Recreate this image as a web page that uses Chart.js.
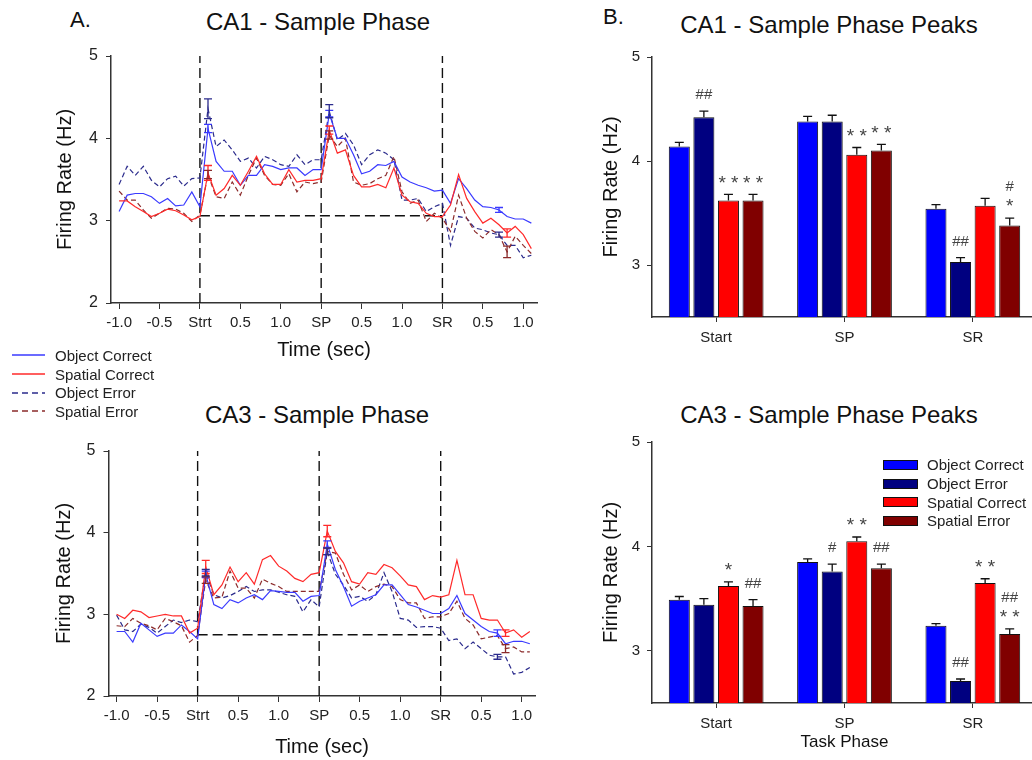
<!DOCTYPE html>
<html>
<head>
<meta charset="utf-8">
<script src="https://cdn.jsdelivr.net/npm/chart.js@4"></script>
<style>
  html, body { margin:0; padding:0; background:#fff; overflow:hidden; width:1032px; height:760px; }
  body { position:relative; font-family:"Liberation Sans", Arial, sans-serif; color:#111; }
  canvas { position:absolute; }
  .title { position:absolute; font-size:24px; white-space:nowrap; transform:translate(-50%,-50%); line-height:1; }
  .letter { position:absolute; font-size:22px; line-height:1; }
  .lg { position:absolute; font-size:15px; color:#222; }
  .lg div { height:18.7px; display:flex; align-items:center; white-space:nowrap; }
  .lg svg { margin-right:10px; }
  .sw { display:inline-block; width:33px; height:8px; border:1px solid #111; margin-right:9px; }
</style>
</head>
<body>
<div class="letter" style="left:70px;top:9px">A.</div>
<div class="letter" style="left:603px;top:6px">B.</div>
<div class="title" style="left:318px;top:22px">CA1 - Sample Phase</div>
<div class="title" style="left:317px;top:415px">CA3 - Sample Phase</div>
<div class="title" style="left:829px;top:25px">CA1 - Sample Phase Peaks</div>
<div class="title" style="left:829px;top:415px">CA3 - Sample Phase Peaks</div>

<canvas id="a1" width="545" height="370" style="left:0;top:0"></canvas>
<canvas id="a3" width="545" height="380" style="left:0;top:380px"></canvas>
<canvas id="b1" width="480" height="370" style="left:560px;top:0"></canvas>
<canvas id="b3" width="480" height="380" style="left:560px;top:380px"></canvas>

<div class="lg" style="left:12px;top:346px">
  <div><svg width="33" height="4"><line x1="0" y1="2" x2="33" y2="2" stroke="#3a3aff" stroke-width="1.5"/></svg>Object Correct</div>
  <div><svg width="33" height="4"><line x1="0" y1="2" x2="33" y2="2" stroke="#ff2a2a" stroke-width="1.5"/></svg>Spatial Correct</div>
  <div><svg width="33" height="4"><line x1="0" y1="2" x2="33" y2="2" stroke="#2b2b8c" stroke-width="1.5" stroke-dasharray="6,4"/></svg>Object Error</div>
  <div><svg width="33" height="4"><line x1="0" y1="2" x2="33" y2="2" stroke="#8b2a2a" stroke-width="1.5" stroke-dasharray="6,4"/></svg>Spatial Error</div>
</div>

<div class="lg" style="left:883px;top:455.5px">
  <div><span class="sw" style="background:#0000ff"></span>Object Correct</div>
  <div><span class="sw" style="background:#000080"></span>Object Error</div>
  <div><span class="sw" style="background:#ff0000"></span>Spatial Correct</div>
  <div><span class="sw" style="background:#800000"></span>Spatial Error</div>
</div>

<script>
// time bins (sec), Strt = 0, SP = 1.5, SR = 3.0
const times = [-1.0, -0.9, -0.8, -0.7, -0.6, -0.5, -0.4, -0.3, -0.2, -0.1,
  0.0, 0.1, 0.2, 0.3, 0.4, 0.5, 0.6, 0.7, 0.8, 0.9, 1.0, 1.1, 1.2, 1.3, 1.4,
  1.5, 1.6, 1.7, 1.8, 1.9, 2.0, 2.1, 2.2, 2.3, 2.4, 2.5, 2.6, 2.7, 2.8, 2.9,
  3.0, 3.1, 3.2, 3.3, 3.4, 3.5, 3.6, 3.7, 3.8, 3.9, 4.0, 4.1];
const xTickVals = [-1, -0.5, 0, 0.5, 1, 1.5, 2, 2.5, 3, 3.5, 4];
const xTickLabels = ['-1.0', '-0.5', 'Strt', '0.5', '1.0', 'SP', '0.5', '1.0', 'SR', '0.5', '1.0'];
const eventTimes = [0, 1.5, 3];

// CA1 time courses
const ca1ObjCorrect = [3.11, 3.31, 3.33, 3.33, 3.29, 3.21, 3.27, 3.18, 3.19, 3.35,
  3.17, 4.12, 3.72, 3.60, 3.60, 3.43, 3.55, 3.55, 3.68, 3.66, 3.62, 3.64, 3.64, 3.55, 3.62,
  3.62, 4.30, 4.00, 4.00, 3.80, 3.57, 3.60, 3.68, 3.67, 3.72, 3.53, 3.47, 3.43, 3.40, 3.36,
  3.37, 3.21, 3.51, 3.39, 3.25, 3.17, 3.16, 3.13, 3.05, 3.02, 3.02, 2.97];
const ca1SpatCorrect = [3.24, 3.24, 3.17, 3.11, 3.05, 3.09, 3.14, 3.12, 3.07, 3.01,
  3.05, 3.58, 3.31, 3.39, 3.55, 3.43, 3.60, 3.78, 3.57, 3.44, 3.44, 3.62, 3.47, 3.49, 3.49,
  3.51, 4.10, 3.82, 3.86, 3.55, 3.41, 3.41, 3.44, 3.40, 3.64, 3.31, 3.23, 3.21, 3.09, 3.05,
  3.05, 3.19, 3.56, 3.27, 3.11, 2.97, 3.03, 2.95, 2.85, 2.93, 2.83, 2.66];
const ca1ObjError = [3.44, 3.66, 3.55, 3.66, 3.49, 3.41, 3.51, 3.54, 3.42, 3.51,
  3.52, 4.36, 3.90, 3.98, 3.86, 3.72, 3.76, 3.64, 3.78, 3.74, 3.68, 3.66, 3.80, 3.68, 3.74,
  3.74, 4.33, 3.98, 4.06, 3.92, 3.68, 3.80, 3.86, 3.82, 3.74, 3.25, 3.25, 3.27, 3.11, 3.17,
  3.21, 2.70, 3.05, 3.03, 2.91, 2.89, 2.85, 2.83, 2.70, 2.70, 2.55, 2.58];
const ca1SpatError = [3.36, 3.25, 3.25, 3.13, 3.03, 3.09, 3.15, 3.14, 3.09, 2.99,
  3.07, 3.56, 3.29, 3.27, 3.47, 3.31, 3.55, 3.76, 3.55, 3.44, 3.43, 3.57, 3.35, 3.47, 3.45,
  3.47, 4.04, 3.90, 4.00, 3.47, 3.43, 3.45, 3.51, 3.55, 3.78, 3.35, 3.21, 3.25, 2.99, 3.09,
  3.03, 2.87, 3.31, 3.03, 2.87, 2.79, 2.89, 2.83, 2.62, 2.81, 2.70, 2.60];
const ca1Baseline = 3.06;

// CA3 time courses
const ca3ObjCorrect = [2.79, 2.79, 2.66, 2.89, 2.81, 2.73, 2.77, 2.77, 2.87, 2.79,
  2.70, 3.49, 3.12, 3.07, 3.18, 3.14, 3.20, 3.24, 3.18, 3.29, 3.28, 3.27, 3.27, 3.16, 3.22,
  3.23, 3.86, 3.55, 3.34, 3.10, 3.16, 3.20, 3.24, 3.36, 3.36, 3.24, 3.12, 3.09, 3.05, 3.01,
  3.01, 3.07, 3.23, 3.01, 2.93, 2.85, 2.79, 2.77, 2.64, 2.67, 2.67, 2.64];
const ca3SpatCorrect = [3.00, 2.95, 3.05, 3.03, 2.96, 2.98, 3.00, 2.98, 2.98, 2.77,
  2.83, 3.58, 3.24, 3.36, 3.58, 3.40, 3.51, 3.37, 3.67, 3.72, 3.59, 3.53, 3.44, 3.40, 3.49,
  3.51, 4.02, 3.77, 3.63, 3.40, 3.37, 3.51, 3.49, 3.61, 3.57, 3.47, 3.36, 3.34, 3.18, 3.23,
  3.21, 3.24, 3.66, 3.24, 3.24, 2.95, 2.93, 2.93, 2.77, 2.81, 2.72, 2.79];
const ca3ObjError = [2.99, 2.81, 2.79, 2.88, 2.84, 2.77, 2.85, 2.93, 2.90, 2.93,
  2.91, 3.51, 3.24, 3.20, 3.23, 3.28, 3.34, 3.28, 3.30, 3.30, 3.27, 3.24, 3.22, 3.03, 3.18,
  3.09, 3.77, 3.49, 3.36, 3.20, 3.22, 3.16, 3.24, 3.51, 3.28, 2.95, 2.93, 2.84, 2.85, 2.85,
  2.83, 2.68, 2.70, 2.58, 2.66, 2.58, 2.50, 2.48, 2.48, 2.27, 2.29, 2.35];
const ca3SpatError = [2.86, 2.85, 2.95, 2.89, 2.86, 2.81, 2.95, 2.91, 2.86, 2.66,
  2.74, 3.42, 3.20, 3.21, 3.53, 3.32, 3.32, 3.20, 3.43, 3.38, 3.34, 3.28, 3.28, 3.28, 3.28,
  3.28, 3.77, 3.75, 3.49, 3.30, 3.36, 3.28, 3.34, 3.37, 3.34, 3.18, 3.14, 3.14, 2.95, 2.97,
  2.97, 3.01, 3.16, 2.95, 2.87, 2.70, 2.72, 2.74, 2.58, 2.60, 2.54, 2.54];
const ca3Baseline = 2.75;

// SEM at selected bins: [time, sem]
const ca1ObjCorrectSem = [[0.1, 0.05], [1.6, 0.04], [3.7, 0.03]];
const ca1SpatCorrectSem = [[0.1, 0.09], [1.6, 0.05], [3.8, 0.05]];
const ca1ObjErrorSem = [[0.1, 0.12], [1.6, 0.08], [3.7, 0.03]];
const ca1SpatErrorSem = [[0.1, 0.05], [1.6, 0.05], [3.8, 0.07]];
const ca3ObjCorrectSem = [[0.1, 0.04], [1.6, 0.04], [3.7, 0.04]];
const ca3SpatCorrectSem = [[0.1, 0.08], [1.6, 0.07], [3.8, 0.04]];
const ca3ObjErrorSem = [[0.1, 0.04], [1.6, 0.04], [3.7, 0.03]];
const ca3SpatErrorSem = [[0.1, 0.04], [1.6, 0.04], [3.8, 0.05]];

// peak bars
const phases = ['Start', 'SP', 'SR'];
const ca1BarObjCorrect = [4.14, 4.38, 3.54];
const ca1BarObjError = [4.42, 4.38, 3.03];
const ca1BarSpatCorrect = [3.62, 4.06, 3.57];
const ca1BarSpatError = [3.62, 4.10, 3.38];
const ca1BarObjCorrectSem = [0.04, 0.05, 0.04];
const ca1BarObjErrorSem = [0.06, 0.06, 0.04];
const ca1BarSpatCorrectSem = [0.06, 0.07, 0.07];
const ca1BarSpatErrorSem = [0.06, 0.06, 0.07];
const ca1Marks = [['', '', ''], ['##', '', '##'], ['* *', '* *', ''], ['* *', '* *', '#\n*']];

const ca3BarObjCorrect = [3.49, 3.85, 3.24];
const ca3BarObjError = [3.44, 3.76, 2.71];
const ca3BarSpatCorrect = [3.62, 4.05, 3.65];
const ca3BarSpatError = [3.43, 3.79, 3.16];
const ca3BarObjCorrectSem = [0.03, 0.03, 0.02];
const ca3BarObjErrorSem = [0.06, 0.07, 0.02];
const ca3BarSpatCorrectSem = [0.04, 0.04, 0.04];
const ca3BarSpatErrorSem = [0.06, 0.04, 0.05];
const ca3Marks = [['', '', ''], ['', '#', '##'], ['*', '* *', '* *'], ['##', '##', '##\n* *']];

Chart.defaults.font.family = '"Liberation Sans", Arial, sans-serif';
Chart.defaults.color = '#222';
Chart.defaults.animation = false;
Chart.defaults.plugins.legend.display = false;
Chart.defaults.plugins.tooltip.enabled = false;

const axisBorder = { display: true, color: '#333', width: 1.5 };

// error bars on the time courses
const lineErr = {
  id: 'lineErr',
  afterDatasetsDraw(chart) {
    const ctx = chart.ctx, xs = chart.scales.x, ys = chart.scales.y;
    chart.data.datasets.forEach(ds => {
      if (!ds.sem) return;
      ctx.save();
      ctx.strokeStyle = ds.borderColor; ctx.lineWidth = 1.3; ctx.setLineDash([]);
      ds.sem.forEach(([t, e]) => {
        const pt = ds.data.find(p => Math.abs(p.x - t) < 1e-6);
        const x = xs.getPixelForValue(t);
        const y1 = ys.getPixelForValue(pt.y + e), y2 = ys.getPixelForValue(pt.y - e);
        ctx.beginPath();
        ctx.moveTo(x, y1); ctx.lineTo(x, y2);
        ctx.moveTo(x - 4, y1); ctx.lineTo(x + 4, y1);
        ctx.moveTo(x - 4, y2); ctx.lineTo(x + 4, y2);
        ctx.stroke();
      });
      ctx.restore();
    });
  }
};

// error bars + significance marks on the bars
const barErr = {
  id: 'barErr',
  afterDatasetsDraw(chart) {
    const ctx = chart.ctx, ys = chart.scales.y;
    chart.data.datasets.forEach((ds, di) => {
      const meta = chart.getDatasetMeta(di);
      meta.data.forEach((el, i) => {
        const capY = ys.getPixelForValue(ds.data[i] + ds.sem[i]);
        ctx.save();
        ctx.strokeStyle = '#111'; ctx.lineWidth = 1.3;
        ctx.beginPath();
        ctx.moveTo(el.x, el.y); ctx.lineTo(el.x, capY);
        ctx.moveTo(el.x - 4.5, capY); ctx.lineTo(el.x + 4.5, capY);
        ctx.stroke();
        const lines = ds.marks[i] ? ds.marks[i].split('\n').reverse() : [];
        ctx.fillStyle = '#444'; ctx.textAlign = 'center'; ctx.textBaseline = 'middle';
        lines.forEach((s, k) => {
          const star = s.indexOf('*') >= 0;
          ctx.font = (star ? '19px' : '15px') + ' "Liberation Sans", Arial, sans-serif';
          ctx.fillText(s, el.x, capY - 16 - k * 15 + (star ? 5 : 0));
        });
        ctx.restore();
      });
    });
  }
};

function lineChart(id, series, baseline, pad, yW, xH, xTitlePad) {
  const ds = series.map(s => ({
    data: times.map((t, i) => ({ x: t, y: s.vals[i] })),
    borderColor: s.color, borderWidth: 1.2, borderDash: s.dash ? [5, 3] : [],
    pointRadius: 0, tension: 0, sem: s.sem
  }));
  eventTimes.forEach(t => ds.push({
    data: [{ x: t, y: 2 }, { x: t, y: 5 }],
    borderColor: '#111', borderWidth: 1.4, borderDash: [10, 5], pointRadius: 0
  }));
  ds.push({
    data: [{ x: eventTimes[0], y: baseline }, { x: eventTimes[2], y: baseline }],
    borderColor: '#111', borderWidth: 1.4, borderDash: [10, 5], pointRadius: 0
  });
  new Chart(document.getElementById(id), {
    type: 'line',
    data: { datasets: ds },
    options: {
      responsive: false, devicePixelRatio: 1,
      layout: { padding: pad },
      scales: {
        x: {
          type: 'linear', min: -1.1, max: 4.17,
          afterBuildTicks: a => { a.ticks = xTickVals.map(v => ({ value: v })); },
          afterFit: s => { s.height = xH; },
          ticks: { callback: (v, i) => xTickLabels[i], font: { size: 15 }, padding: 5, autoSkip: false, maxRotation: 0 },
          grid: { drawOnChartArea: false, drawTicks: true, tickLength: 6, color: '#333' },
          border: axisBorder,
          title: { display: true, text: 'Time (sec)', font: { size: 20 }, color: '#111', padding: { top: 0, bottom: xTitlePad } }
        },
        y: {
          min: 2, max: 5,
          afterBuildTicks: a => { a.ticks = [2, 3, 4, 5].map(v => ({ value: v })); },
          afterFit: s => { s.width = yW; },
          ticks: { font: { size: 16 }, padding: 8 },
          grid: { drawOnChartArea: false, drawTicks: true, tickLength: 5, color: '#333' },
          border: axisBorder,
          title: { display: true, text: 'Firing Rate (Hz)', font: { size: 20 }, color: '#111', padding: 0 }
        }
      }
    },
    plugins: [lineErr]
  });
}

function barChart(id, vals, sems, marks, pad, yW, xH, xTitle) {
  const colors = ['#0000ff', '#000080', '#ff0000', '#800000'];
  const names = ['Object Correct', 'Object Error', 'Spatial Correct', 'Spatial Error'];
  new Chart(document.getElementById(id), {
    type: 'bar',
    data: {
      labels: phases,
      datasets: vals.map((v, i) => ({
        label: names[i], data: v, sem: sems[i], marks: marks[i],
        backgroundColor: colors[i], borderColor: '#111', borderWidth: 1,
        barPercentage: 0.855, categoryPercentage: 0.766
      }))
    },
    options: {
      responsive: false, devicePixelRatio: 1,
      layout: { padding: pad },
      scales: {
        x: {
          afterFit: s => { s.height = xH; },
          ticks: { font: { size: 15 }, padding: 7 },
          grid: { offset: false, drawOnChartArea: false, drawTicks: true, tickLength: 5, color: '#333' },
          border: axisBorder,
          title: { display: !!xTitle, text: xTitle || '', font: { size: 17 }, color: '#111', padding: { top: 0, bottom: 7 } }
        },
        y: {
          min: 2.5, max: 5,
          afterBuildTicks: a => { a.ticks = [3, 4, 5].map(v => ({ value: v })); },
          afterFit: s => { s.width = yW; },
          ticks: { font: { size: 15 }, padding: 7 },
          grid: { drawOnChartArea: false, drawTicks: true, tickLength: 5, color: '#333' },
          border: axisBorder,
          title: { display: true, text: 'Firing Rate (Hz)', font: { size: 20 }, color: '#111', padding: 0 }
        }
      }
    },
    plugins: [barErr]
  });
}

const C_OC = '#3a3aff', C_SC = '#ff2a2a', C_OE = '#2b2b8c', C_SE = '#8b2a2a';

lineChart('a1', [
  { vals: ca1SpatCorrect, color: C_SC, sem: ca1SpatCorrectSem },
  { vals: ca1ObjCorrect, color: C_OC, sem: ca1ObjCorrectSem },
  { vals: ca1SpatError, color: C_SE, dash: true, sem: ca1SpatErrorSem },
  { vals: ca1ObjError, color: C_OE, dash: true, sem: ca1ObjErrorSem }
], ca1Baseline, { left: 53, top: 56, right: 8, bottom: 0 }, 58, 67, 8);

lineChart('a3', [
  { vals: ca3SpatCorrect, color: C_SC, sem: ca3SpatCorrectSem },
  { vals: ca3ObjCorrect, color: C_OC, sem: ca3ObjCorrectSem },
  { vals: ca3SpatError, color: C_SE, dash: true, sem: ca3SpatErrorSem },
  { vals: ca3ObjError, color: C_OE, dash: true, sem: ca3ObjErrorSem }
], ca3Baseline, { left: 52, top: 71, right: 9.5, bottom: 0 }, 56.5, 64, 1);

barChart('b1',
  [ca1BarObjCorrect, ca1BarObjError, ca1BarSpatCorrect, ca1BarSpatError],
  [ca1BarObjCorrectSem, ca1BarObjErrorSem, ca1BarSpatCorrectSem, ca1BarSpatErrorSem],
  ca1Marks, { left: 39, top: 57, right: 3, bottom: 0 }, 53, 53, null);

barChart('b3',
  [ca3BarObjCorrect, ca3BarObjError, ca3BarSpatCorrect, ca3BarSpatError],
  [ca3BarObjCorrectSem, ca3BarObjErrorSem, ca3BarSpatCorrectSem, ca3BarSpatErrorSem],
  ca3Marks, { left: 39, top: 62, right: 3, bottom: 0 }, 53, 57, 'Task Phase');
</script>
</body>
</html>
